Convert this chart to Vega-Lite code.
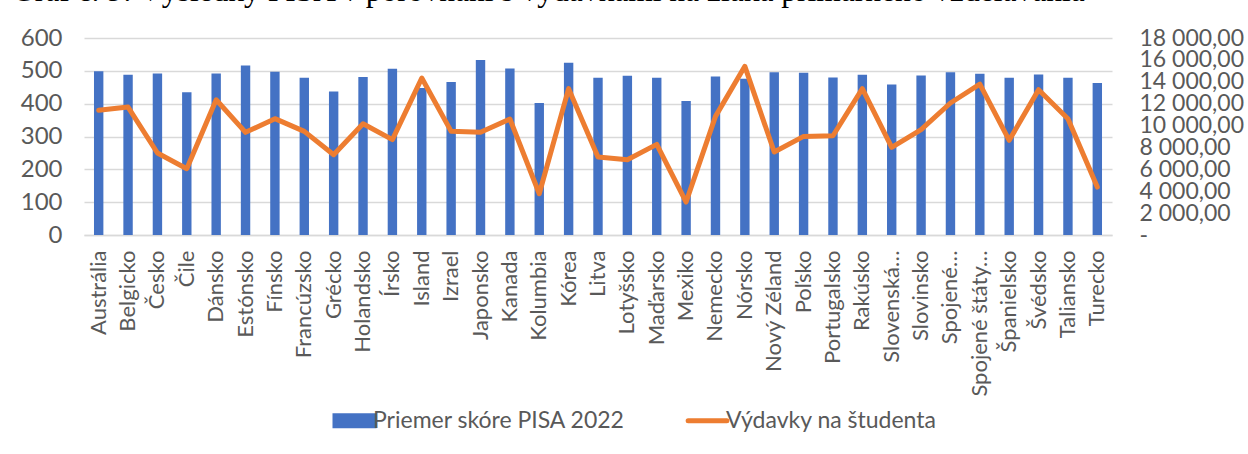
{
  "$schema": "https://vega.github.io/schema/vega-lite/v6.json",
  "autosize": {"type": "none"},
  "padding": {"left": 84, "top": 38, "right": 136, "bottom": 219},
  "width": 1028,
  "height": 197,
  "background": "white",
  "title": {
    "text": "Graf č. 9: Výsledky PISA v porovnaní s výdavkami na žiaka primárneho vzdelávania",
    "orient": "top",
    "anchor": "start",
    "frame": "group",
    "baseline": "alphabetic",
    "offset": 0,
    "dy": 6,
    "dx": -72,
    "font": "Liberation Serif",
    "fontSize": 31.5,
    "fontWeight": "normal",
    "color": "#000000"
  },
  "data": {
    "values": [
      {"country": "Austrália", "pisa": 499, "spend": 11390},
      {"country": "Belgicko", "pisa": 488, "spend": 11690},
      {"country": "Česko", "pisa": 492, "spend": 7490},
      {"country": "Čile", "pisa": 435, "spend": 6060},
      {"country": "Dánsko", "pisa": 492, "spend": 12360},
      {"country": "Estónsko", "pisa": 516, "spend": 9380},
      {"country": "Fínsko", "pisa": 497, "spend": 10630},
      {"country": "Francúzsko", "pisa": 479, "spend": 9470},
      {"country": "Grécko", "pisa": 437, "spend": 7340},
      {"country": "Holandsko", "pisa": 481, "spend": 10170},
      {"country": "Írsko", "pisa": 506, "spend": 8710},
      {"country": "Island", "pisa": 448, "spend": 14340},
      {"country": "Izrael", "pisa": 466, "spend": 9470},
      {"country": "Japonsko", "pisa": 533, "spend": 9380},
      {"country": "Kanada", "pisa": 507, "spend": 10600},
      {"country": "Kolumbia", "pisa": 402, "spend": 3770},
      {"country": "Kórea", "pisa": 525, "spend": 13370},
      {"country": "Litva", "pisa": 479, "spend": 7120},
      {"country": "Lotyšsko", "pisa": 485, "spend": 6880},
      {"country": "Maďarsko", "pisa": 479, "spend": 8280},
      {"country": "Mexiko", "pisa": 408, "spend": 3010},
      {"country": "Nemecko", "pisa": 483, "spend": 10840},
      {"country": "Nórsko", "pisa": 476, "spend": 15410},
      {"country": "Nový Zéland", "pisa": 496, "spend": 7580},
      {"country": "Poľsko", "pisa": 494, "spend": 9010},
      {"country": "Portugalsko", "pisa": 480, "spend": 9070},
      {"country": "Rakúsko", "pisa": 488, "spend": 13370},
      {"country": "Slovenská republika", "pisa": 458, "spend": 8010},
      {"country": "Slovinsko", "pisa": 486, "spend": 9620},
      {"country": "Spojené kráľovstvo", "pisa": 496, "spend": 12060},
      {"country": "Spojené štáty americké", "pisa": 491, "spend": 13790},
      {"country": "Španielsko", "pisa": 479, "spend": 8650},
      {"country": "Švédsko", "pisa": 489, "spend": 13280},
      {"country": "Taliansko", "pisa": 479, "spend": 10630},
      {"country": "Turecko", "pisa": 463, "spend": 4380}
    ]
  },
  "encoding": {
    "x": {
      "field": "country",
      "type": "nominal",
      "sort": null,
      "scale": {"paddingInner": 0.68, "paddingOuter": 0.34},
      "axis": {
        "title": null,
        "labelAngle": -90,
        "labelAlign": "right",
        "labelBaseline": "middle",
        "labelPadding": 15,
        "labelFont": "Lato",
        "labelFontSize": 22,
        "labelColor": "#595959",
        "labelLimit": 0,
        "ticks": false,
        "domain": true,
        "domainColor": "#D9D9D9",
        "domainWidth": 1.3,
        "grid": false,
        "labelExpr": "datum.value == 'Slovenská republika' ? 'Slovenská…' : datum.value == 'Spojené kráľovstvo' ? 'Spojené…' : datum.value == 'Spojené štáty americké' ? 'Spojené štáty…' : datum.value"
      }
    }
  },
  "layer": [
    {
      "mark": {"type": "bar", "color": "#4472C4"},
      "encoding": {
        "y": {
          "field": "pisa",
          "type": "quantitative",
          "scale": {"domain": [0, 600], "nice": false},
          "axis": {
            "title": null,
            "orient": "left",
            "values": [0, 100, 200, 300, 400, 500, 600],
            "labelFont": "Lato",
            "labelFontSize": 24,
            "labelColor": "#595959",
            "labelPadding": 22,
            "labelOverlap": false,
            "ticks": false,
            "domain": false,
            "grid": true,
            "gridColor": "#D9D9D9",
            "gridWidth": 1.3
          }
        },
        "color": {
          "datum": "Priemer skóre PISA 2022",
          "type": "nominal",
          "scale": {"domain": ["Priemer skóre PISA 2022", "Výdavky na študenta"], "range": ["#4472C4", "#ED7D31"]},
          "legend": {
            "orient": "none",
            "legendX": 259,
            "legendY": 371,
            "direction": "horizontal",
            "title": null,
            "labelFont": "Lato",
            "labelFontSize": 23,
            "labelColor": "#595959",
            "labelLimit": 0,
            "labelOffset": 7,
            "columnPadding": 52,
            "symbolSize": 1936,
            "encode": {
              "symbols": {
                "update": {
                  "shape": {"signal": "datum.value === 'Priemer skóre PISA 2022' ? 'M-1,-0.34H1V0.34H-1Z' : 'M-0.88,0H0.88'"},
                  "fill": {"signal": "datum.value === 'Priemer skóre PISA 2022' ? '#4472C4' : 'transparent'"},
                  "stroke": {"signal": "datum.value === 'Priemer skóre PISA 2022' ? 'transparent' : '#ED7D31'"},
                  "strokeWidth": {"signal": "datum.value === 'Priemer skóre PISA 2022' ? 0 : 5"},
                  "strokeCap": {"value": "round"},
                  "opacity": {"value": 1}
                }
              }
            }
          }
        }
      }
    },
    {
      "mark": {"type": "line", "color": "#ED7D31", "strokeWidth": 5, "strokeJoin": "round", "strokeCap": "round"},
      "encoding": {
        "y": {
          "field": "spend",
          "type": "quantitative",
          "scale": {"domain": [0, 18000], "nice": false},
          "axis": {
            "title": null,
            "orient": "right",
            "values": [0, 2000, 4000, 6000, 8000, 10000, 12000, 14000, 16000, 18000],
            "labelExpr": "datum.value == 0 ? '-' : replace(replace(format(datum.value, ',.2f'), ',', ' '), '.', ',')",
            "labelFont": "Lato",
            "labelFontSize": 23,
            "labelColor": "#595959",
            "labelPadding": 27,
            "labelOverlap": false,
            "ticks": false,
            "domain": false,
            "grid": false
          }
        },
        "color": {"datum": "Výdavky na študenta", "type": "nominal"}
      }
    }
  ],
  "resolve": {"scale": {"y": "independent"}},
  "config": {"view": {"stroke": null}}
}
